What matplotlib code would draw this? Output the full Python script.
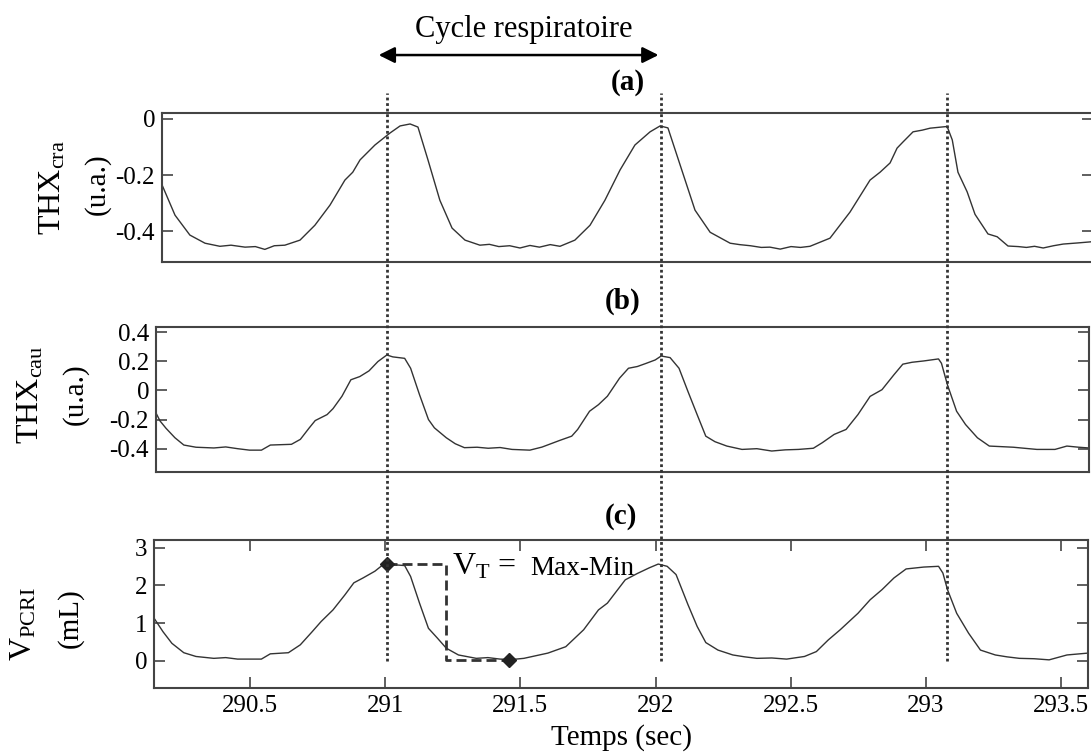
import matplotlib.pyplot as plt
from matplotlib.lines import Line2D
from matplotlib.patches import FancyArrowPatch
from matplotlib.transforms import blended_transform_factory

plt.rcParams['font.family'] = 'Liberation Serif'
plt.rcParams['mathtext.fontset'] = 'custom'
plt.rcParams['mathtext.rm'] = 'Liberation Serif'
plt.rcParams['mathtext.it'] = 'Liberation Serif:italic'
plt.rcParams['mathtext.bf'] = 'Liberation Serif:bold'
plt.rcParams['axes.unicode_minus'] = False

# (a) THX crânien (u.a.)
t_a = [290.175, 290.223, 290.278, 290.334, 290.389, 290.430, 290.482, 290.520, 290.555,
       290.590, 290.629, 290.685, 290.740, 290.796, 290.851, 290.880, 290.907, 290.962,
       291.018, 291.055, 291.092, 291.121, 291.158, 291.202, 291.247, 291.295, 291.350,
       291.385, 291.420, 291.460, 291.498, 291.535, 291.570, 291.610, 291.646, 291.701,
       291.757, 291.812, 291.868, 291.923, 291.979, 292.016, 292.045, 292.090, 292.145,
       292.201, 292.275, 292.310, 292.350, 292.390, 292.422, 292.460, 292.500, 292.535,
       292.570, 292.644, 292.718, 292.792, 292.829, 292.866, 292.892, 292.914, 292.951,
       292.985, 293.014, 293.045, 293.077, 293.096, 293.117, 293.151, 293.180, 293.228,
       293.262, 293.302, 293.340, 293.370, 293.400, 293.432, 293.470, 293.506, 293.560,
       293.609]
v_a = [-0.235, -0.343, -0.414, -0.443, -0.454, -0.450, -0.457, -0.455, -0.465,
       -0.452, -0.450, -0.432, -0.379, -0.307, -0.218, -0.190, -0.146, -0.093,
       -0.050, -0.025, -0.018, -0.029, -0.146, -0.290, -0.389, -0.432, -0.450,
       -0.447, -0.455, -0.452, -0.460, -0.451, -0.457, -0.448, -0.454, -0.432,
       -0.379, -0.290, -0.182, -0.093, -0.046, -0.025, -0.032, -0.164, -0.325,
       -0.404, -0.443, -0.448, -0.452, -0.458, -0.457, -0.464, -0.455, -0.458,
       -0.454, -0.425, -0.332, -0.218, -0.190, -0.157, -0.104, -0.082, -0.046,
       -0.040, -0.033, -0.030, -0.027, -0.075, -0.190, -0.260, -0.340, -0.410,
       -0.420, -0.453, -0.455, -0.458, -0.454, -0.460, -0.452, -0.446, -0.442,
       -0.438]

# (b) THX caudal (u.a.)
t_b = [290.145, 290.167, 290.189, 290.222, 290.255, 290.300, 290.366, 290.410, 290.454,
       290.498, 290.542, 290.575, 290.653, 290.686, 290.719, 290.741, 290.785, 290.807,
       290.840, 290.873, 290.906, 290.940, 290.973, 291.006, 291.028, 291.072, 291.094,
       291.127, 291.160, 291.182, 291.226, 291.259, 291.293, 291.340, 291.381, 291.425,
       291.469, 291.535, 291.580, 291.646, 291.690, 291.712, 291.756, 291.789, 291.822,
       291.867, 291.900, 291.933, 291.966, 291.999, 292.021, 292.054, 292.087, 292.120,
       292.154, 292.186, 292.220, 292.264, 292.320, 292.375, 292.430, 292.480, 292.529,
       292.584, 292.617, 292.661, 292.705, 292.749, 292.794, 292.838, 292.882, 292.915,
       292.949, 292.992, 293.047, 293.058, 293.080, 293.114, 293.147, 293.191, 293.235,
       293.280, 293.324, 293.370, 293.411, 293.478, 293.522, 293.566, 293.603]
v_b = [-0.130, -0.210, -0.260, -0.325, -0.375, -0.390, -0.395, -0.388, -0.400,
       -0.410, -0.410, -0.375, -0.370, -0.336, -0.257, -0.207, -0.166, -0.125,
       -0.040, 0.073, 0.095, 0.134, 0.198, 0.243, 0.230, 0.220, 0.152,
       -0.030, -0.200, -0.257, -0.325, -0.366, -0.393, -0.390, -0.397, -0.392,
       -0.405, -0.410, -0.389, -0.343, -0.314, -0.268, -0.143, -0.098, -0.040,
       0.084, 0.152, 0.164, 0.186, 0.209, 0.236, 0.225, 0.152, -0.007,
       -0.166, -0.314, -0.352, -0.382, -0.405, -0.400, -0.416, -0.408, -0.405,
       -0.397, -0.359, -0.302, -0.268, -0.166, -0.041, 0.005, 0.107, 0.180,
       0.193, 0.202, 0.216, 0.186, 0.039, -0.143, -0.234, -0.325, -0.382,
       -0.386, -0.390, -0.398, -0.405, -0.405, -0.382, -0.390, -0.395]

# (c) V PCRI (mL)
t_c = [290.145, 290.178, 290.211, 290.255, 290.300, 290.366, 290.410, 290.454, 290.542,
       290.575, 290.642, 290.686, 290.730, 290.763, 290.807, 290.851, 290.884, 290.918,
       290.962, 290.995, 291.017, 291.072, 291.094, 291.127, 291.160, 291.193, 291.226,
       291.271, 291.337, 291.380, 291.425, 291.470, 291.513, 291.602, 291.668, 291.734,
       291.789, 291.822, 291.888, 291.933, 291.977, 292.010, 292.043, 292.076, 292.120,
       292.154, 292.186, 292.231, 292.286, 292.330, 292.375, 292.430, 292.485, 292.551,
       292.595, 292.639, 292.683, 292.749, 292.794, 292.838, 292.882, 292.927, 292.992,
       293.047, 293.063, 293.080, 293.114, 293.158, 293.202, 293.257, 293.300, 293.346,
       293.400, 293.456, 293.522, 293.600]
v_c = [1.13, 0.77, 0.46, 0.21, 0.11, 0.06, 0.08, 0.04, 0.04,
       0.18, 0.21, 0.42, 0.77, 1.04, 1.35, 1.75, 2.07, 2.20,
       2.38, 2.57, 2.56, 2.53, 2.24, 1.53, 0.86, 0.60, 0.33,
       0.15, 0.06, 0.08, 0.04, 0.03, 0.06, 0.20, 0.37, 0.82,
       1.35, 1.53, 2.15, 2.32, 2.47, 2.57, 2.51, 2.29, 1.49,
       0.91, 0.48, 0.28, 0.15, 0.10, 0.06, 0.07, 0.04, 0.11,
       0.24, 0.55, 0.82, 1.26, 1.62, 1.89, 2.20, 2.44, 2.49,
       2.51, 2.33, 1.89, 1.26, 0.73, 0.28, 0.15, 0.10, 0.06,
       0.05, 0.02, 0.15, 0.20]

# début des cycles respiratoires (s)
cycles = [291.006, 292.021, 293.080]

# V_T = Max - Min
t_vt = [291.006, 291.458]
v_vt = [2.57, 0.02]
t_coude = 291.226

xticks = [290.5, 291, 291.5, 292, 292.5, 293, 293.5]
xticklabels = ['290.5', '291', '291.5', '292', '292.5', '293', '293.5']

yticks_a = [0, -0.2, -0.4]
ytl_a = ['0', '-0.2', '-0.4']
yticks_b = [0.4, 0.2, 0, -0.2, -0.4]
ytl_b = ['0.4', '0.2', '0', '-0.2', '-0.4']
yticks_c = [3, 2, 1, 0]
ytl_c = ['3', '2', '1', '0']

gris = '#333333'
fig = plt.figure(figsize=(10.91, 7.54), dpi=100)

ax_a = fig.add_axes([0.1485, 0.6525, 0.8533, 0.1976])
ax_b = fig.add_axes([0.1430, 0.3740, 0.8552, 0.1923])
ax_c = fig.add_axes([0.1412, 0.0875, 0.8561, 0.1963])

panneaux = [
    (ax_a, t_a, v_a, (290.175, 293.616), (-0.51, 0.021), yticks_a, ytl_a, '(a)', 16.5),
    (ax_b, t_b, v_b, (290.152, 293.604), (-0.56, 0.435), yticks_b, ytl_b, '(b)', 13),
    (ax_c, t_c, v_c, (290.145, 293.600), (-0.73, 3.21), yticks_c, ytl_c, '(c)', 12),
]

for ax, t, v, xl, yl, yt, ytl, titre, pad in panneaux:
    ax.plot(t, v, color=gris, lw=1.0)
    ax.set_xlim(xl)
    ax.set_ylim(yl)
    ax.set_yticks(yt)
    ax.set_yticklabels(ytl)
    ax.set_title(titre, fontsize=21, fontweight='bold', pad=pad)
    ax.tick_params(direction='in', length=8, width=1.2, color='#444444',
                   right=True, top=True, labelsize=18, pad=5)
    for s in ax.spines.values():
        s.set_color('#444444')
        s.set_linewidth(1.5)

for ax in (ax_a, ax_b):
    ax.set_xticks([])

ax_c.set_xticks(xticks)
ax_c.set_xticklabels(xticklabels)
ax_c.set_xlabel('Temps (sec)', fontsize=21, labelpad=5)

# étiquettes des axes y (deux lignes)
etiquettes = [
    (r'$\mathrm{THX}_{\mathrm{cra}}$', 0.055, 0.752, 23),
    ('(u.a.)', 0.0953, 0.756, 21),
    (r'$\mathrm{THX}_{\mathrm{cau}}$', 0.0357, 0.476, 23),
    ('(u.a.)', 0.076, 0.4775, 21),
    (r'$\mathrm{V}_{\mathrm{PCRI}}$', 0.0293, 0.1724, 23),
    ('(mL)', 0.0706, 0.180, 21),
]
for txt, x, y, fs in etiquettes:
    fig.text(x, y, txt, fontsize=fs, rotation=90, rotation_mode='anchor',
             ha='center', va='baseline')

# lignes pointillées verticales à travers les trois panneaux
trans = blended_transform_factory(ax_c.transData, fig.transFigure)
for tc in cycles:
    fig.add_artist(Line2D([tc, tc], [0.124, 0.877], transform=trans, color=gris,
                          lw=2.0, linestyle=(0, (1, 1))))

# flèche du cycle respiratoire
fig.add_artist(FancyArrowPatch((cycles[0] - 0.03, 0.927), (cycles[1] - 0.01, 0.927),
                               transform=trans, arrowstyle='<|-|>', mutation_scale=24,
                               lw=1.8, color='black', shrinkA=0, shrinkB=0))
fig.text(0.48, 0.951, 'Cycle respiratoire', fontsize=22, ha='center', va='baseline')

# V_T = Max-Min
ax_c.plot([t_vt[0], t_coude, t_coude, t_vt[1]], [v_vt[0], v_vt[0], v_vt[1], v_vt[1]],
          color=gris, lw=2.0, dashes=(3.6, 1.8))
ax_c.plot(t_vt, v_vt, 'D', ms=7, color='#222222')
ax_c.text(291.247, 2.29, r'$\mathrm{V}_{\mathrm{T}}$ =', fontsize=23, va='baseline')
ax_c.text(291.535, 2.29, 'Max-Min', fontsize=19.5, va='baseline')

fig.savefig('out.png', dpi=100)
